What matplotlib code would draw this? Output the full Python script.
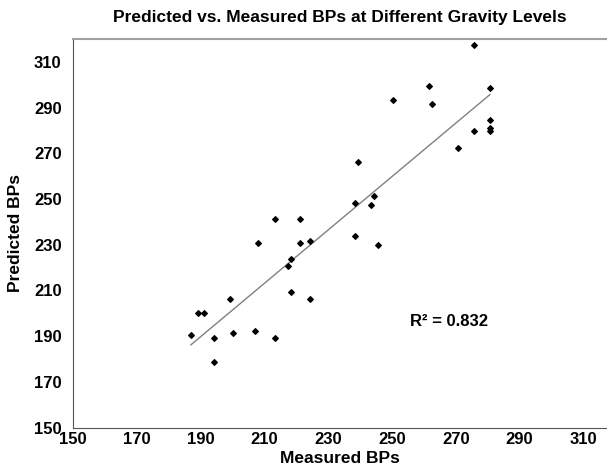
import matplotlib
matplotlib.use("Agg")
import matplotlib.pyplot as plt
import numpy as np

# measured vs predicted BPs
measured = [187.0, 189.2, 191.1, 194.2, 194.2, 199.2, 200.2, 207.1, 208.0,
            213.3, 213.3, 217.4, 218.3, 218.3, 221.2, 221.2, 224.3, 224.3,
            238.4, 238.4, 239.3, 243.4, 244.4, 245.6, 250.3, 261.6, 262.5,
            270.7, 275.7, 275.7, 280.7, 280.7, 280.7, 280.7]
predicted = [190.4, 200.1, 200.1, 189.1, 178.6, 206.2, 191.3, 192.2, 230.7,
             189.1, 241.2, 220.6, 223.7, 209.2, 241.2, 230.7, 231.5, 206.2,
             248.1, 233.7, 266.1, 247.3, 251.2, 229.8, 293.2, 299.3, 291.4,
             272.2, 317.2, 279.6, 298.4, 284.4, 281.3, 279.6]
ticks = [150, 170, 190, 210, 230, 250, 270, 290, 310]
r2_label = "R² = 0.832"

plt.rcParams['font.family'] = ['Liberation Sans', 'DejaVu Sans']

fig = plt.figure(figsize=(6.07, 4.68), dpi=100)
ax = fig.add_axes([0.120, 0.0865, 0.880, 0.830])

ax.scatter(measured, predicted, marker='D', s=8, color='black', zorder=3)

# linear trendline
m, b = np.polyfit(measured, predicted, 1)
xs = np.array([min(measured), max(measured)])
ax.plot(xs, m * xs + b, color='#808080', lw=1)

ax.set_xlim(150, 317.4)
ax.set_ylim(150, 320)
ax.set_xticks(ticks)
ax.set_yticks(ticks)
ax.tick_params(length=0, labelsize=12)
ax.tick_params(axis='x', pad=3)
ax.tick_params(axis='y', pad=8)
for lab in ax.get_xticklabels() + ax.get_yticklabels():
    lab.set_fontweight('bold')

ax.spines['right'].set_visible(False)
ax.spines['left'].set_color('#555555')
ax.spines['bottom'].set_color('#555555')
ax.spines['top'].set_color('#a0a0a0')
ax.spines['top'].set_linewidth(1.5)

ax.text(255.6, 196.6, r2_label, fontsize=12, fontweight='bold', va='center', ha='left')

ax.set_title("Predicted vs. Measured BPs at Different Gravity Levels",
             fontsize=12.5, fontweight='bold', pad=12)
ax.set_xlabel("Measured BPs", fontsize=12.5, fontweight='bold', labelpad=3)
ax.set_ylabel("Predicted BPs", fontsize=12.5, fontweight='bold', labelpad=8)

fig.savefig("out.png", dpi=100)
